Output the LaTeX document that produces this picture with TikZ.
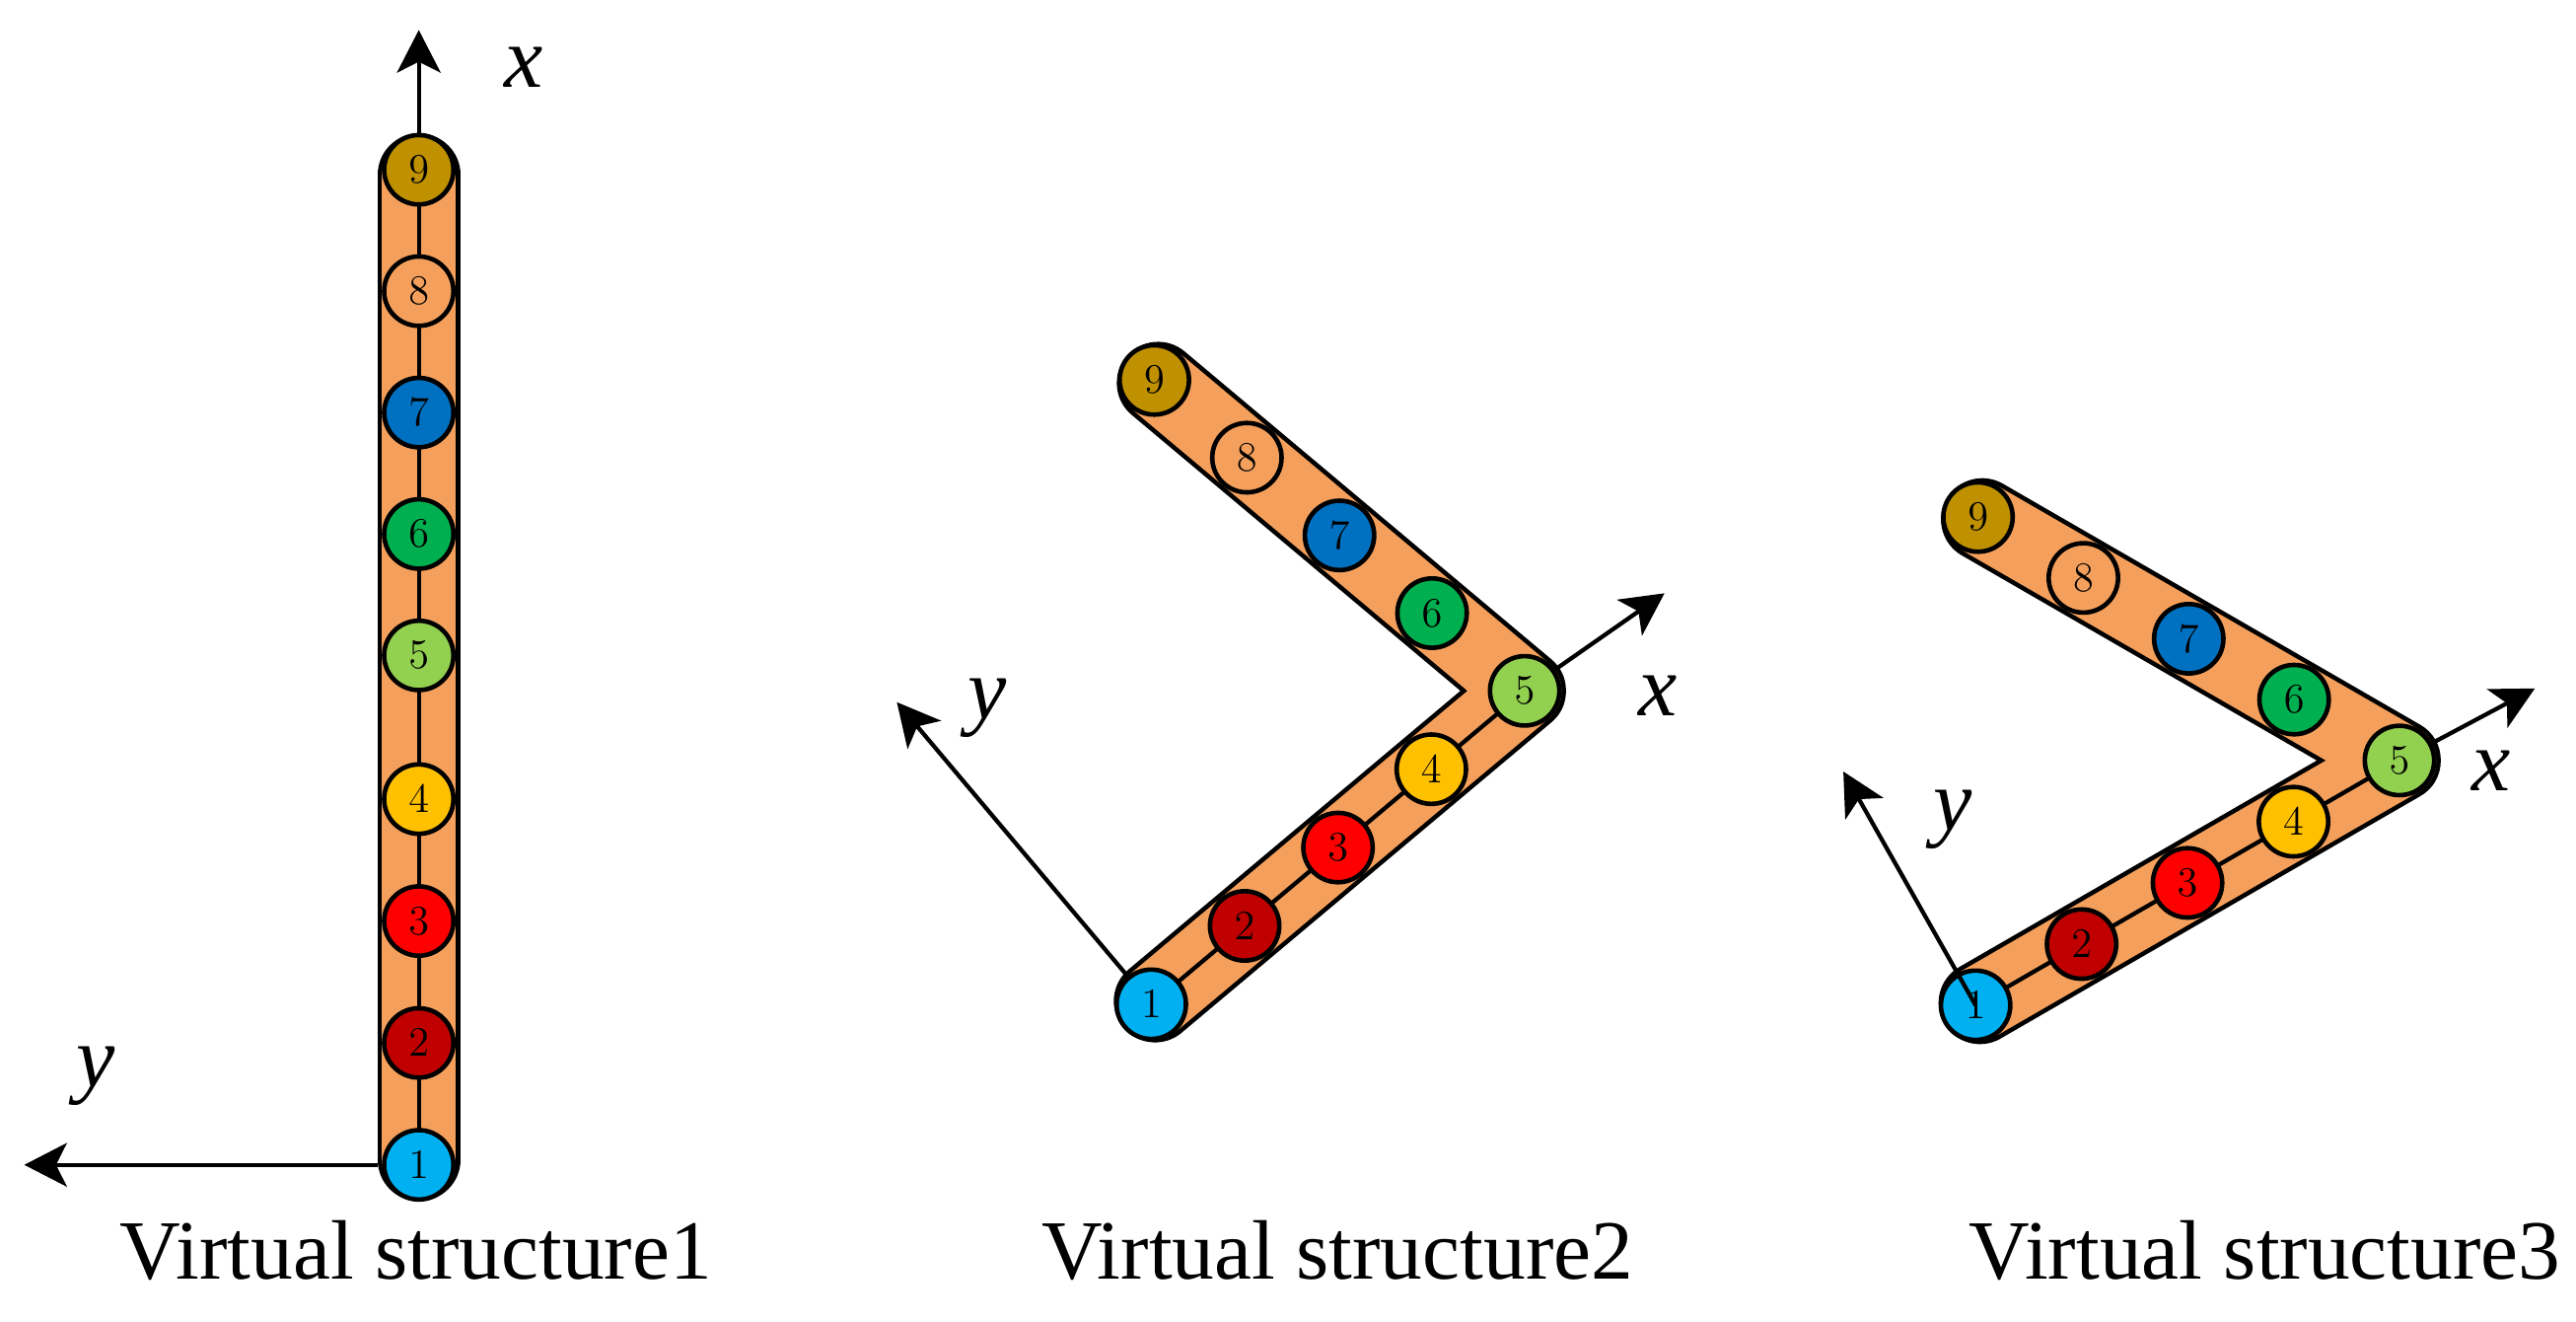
\documentclass[tikz,border=0pt]{standalone}
\usepackage{fontspec}
\setmainfont{Liberation Serif}
\usetikzlibrary{arrows.meta,calc,backgrounds}
\definecolor{c1}{RGB}{0,176,240}
\definecolor{c2}{RGB}{192,0,0}
\definecolor{c3}{RGB}{255,0,0}
\definecolor{c4}{RGB}{255,192,0}
\definecolor{c5}{RGB}{146,208,80}
\definecolor{c6}{RGB}{0,176,80}
\definecolor{c7}{RGB}{0,112,192}
\definecolor{c8}{RGB}{244,160,92}
\definecolor{c9}{RGB}{191,144,0}
\definecolor{bandorange}{RGB}{244,160,92}
\begin{document}
\begin{tikzpicture}[
    ball/.style={circle, draw, line width=1.3pt, minimum size=0.7cm, inner sep=0pt, font=\fontsize{12}{14}\selectfont},
    rim/.style={line width=0.834cm, line cap=round, line join=round, shorten <=0.05cm, shorten >=0.05cm},
    core/.style={rim, line width=0.742cm, color=bandorange},
    axis/.style={line width=1.2pt, -{Stealth[length=0.43cm, width=0.44cm, inset=0.11cm]}},
    lbl/.style={font=\fontsize{25}{30}\selectfont\itshape},
    vslabel/.style={font=\fontsize{24.2}{29}\selectfont, anchor=base}
  ]
  \useasboundingbox (0,0) rectangle (26,13.333);

  % structure 1
  \foreach \i/\y in {1/1.58, 2/2.81, 3/4.04, 4/5.27, 5/6.72, 6/7.945, 7/9.17, 8/10.395, 9/11.62}
    \node[ball, fill=c\i] (p1a\i) at (4.227,\y) {$\i$};
  % structure 2
  \foreach \i in {1,...,5}
    \node[ball, fill=c\i] (p2a\i) at ($(11.62,3.20)+(40:{(\i-1)*1.23})$) {$\i$};
  \foreach \i in {6,...,9}
    \node[ball, fill=c\i] (p2a\i) at ($(p2a5)+(140:{(\i-5)*1.22})$) {$\i$};
  % structure 3
  \foreach \i in {1,...,5}
    \node[ball, fill=c\i] (p3a\i) at ($(19.94,3.19)+(30:{(\i-1)*1.235})$) {$\i$};
  \foreach \i in {6,...,9}
    \node[ball, fill=c\i] (p3a\i) at ($(p3a5)+(150:{(\i-5)*1.228})$) {$\i$};

  \begin{scope}[on background layer]
    \draw[rim] (p1a1.center) -- (p1a9.center);
    \draw[core] (p1a1.center) -- (p1a9.center);
    \draw[line width=1.2pt] (p1a1.center) -- (p1a9.center);
    \draw[rim] (p2a1.center) -- (p2a5.center) -- (p2a9.center);
    \draw[core] (p2a1.center) -- (p2a5.center) -- (p2a9.center);
    \draw[line width=1.2pt] (p2a1.center) -- (p2a5.center);
    \draw[rim] (p3a1.center) -- (p3a5.center) -- (p3a9.center);
    \draw[core] (p3a1.center) -- (p3a5.center) -- (p3a9.center);
    \draw[line width=1.2pt] (p3a1.center) -- (p3a5.center);
  \end{scope}

  % axes
  \coordinate (p1x) at (4.227,13.03);
  \coordinate (p1y) at (0.245,1.58);
  \coordinate (p2x) at (16.8,7.347);
  \coordinate (p2y) at (9.052,6.248);
  \coordinate (p3x) at (25.585,6.387);
  \coordinate (p3y) at (18.605,5.548);
  \draw[axis] (p1a9) -- (p1x);
  \draw[axis] ([xshift=-0.045cm]p1a1.west) -- (p1y);
  \draw[axis] (p2a5) -- (p2x);
  \draw[axis] (p2a1) -- (p2y);
  \draw[axis] (p3a5) -- (p3x);
  \draw[axis] (p3a1.center) -- (p3y);
  \node[lbl] (p1xl) at (5.283,12.65) {x};
  \node[lbl] (p1yl) at (0.97,2.473) {y};
  \node[lbl] (p2xl) at (16.73,6.315) {x};
  \node[lbl] (p2yl) at (9.967,6.187) {y};
  \node[lbl] (p3xl) at (25.145,5.557) {x};
  \node[lbl] (p3yl) at (19.705,5.06) {y};

  \node[vslabel] (p1cap) at (4.2,0.43) {Virtual structure1};
  \node[vslabel] (p2cap) at (13.5,0.43) {Virtual structure2};
  \node[vslabel] (p3cap) at (22.86,0.43) {Virtual structure3};
\end{tikzpicture}
\end{document}
